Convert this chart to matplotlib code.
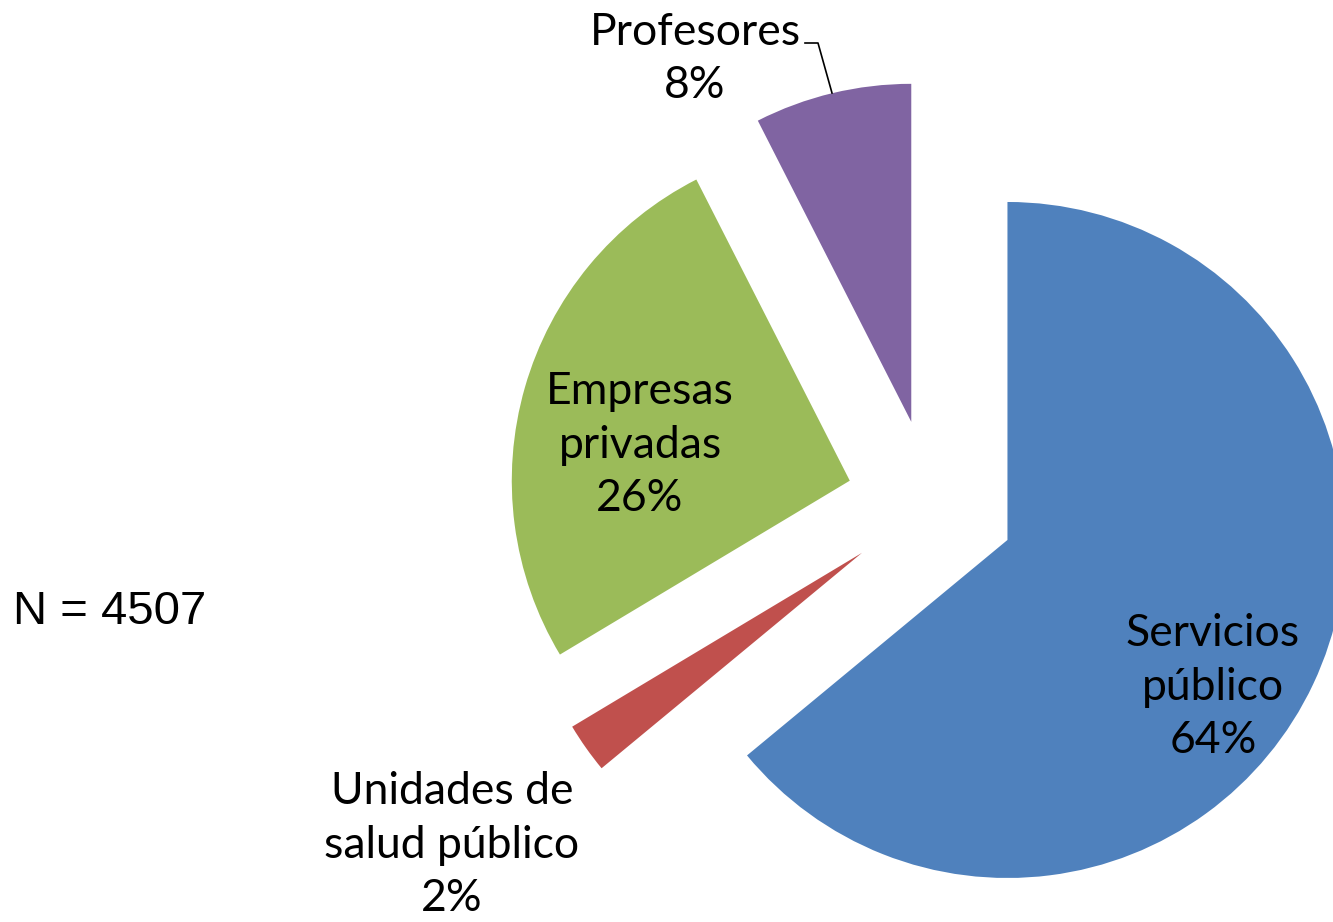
import matplotlib
matplotlib.use("Agg")
import matplotlib.pyplot as plt

# data
categories = ["Servicios\npúblico", "Unidades de\nsalud público", "Empresas\nprivadas", "Profesores"]
shares = [64.0, 2.4, 26.1, 7.5]          # slice sizes
shown_pct = [64, 2, 26, 8]               # percentages printed on the chart
colors = ["#4F81BD", "#C0504D", "#9BBB59", "#8064A2"]
n_label = "N = 4507"

W, H = 1333, 922
fig = plt.figure(figsize=(W / 100, H / 100), dpi=100)
ax = fig.add_axes([0, 0, 1, 1])

# pie geometry in pixels of the reference
R = 338.0
CX, CY = 931.0, 504.0

def px(x, y):
    return ((x - CX) / R, (CY - y) / R)

ax.pie(shares, colors=colors, startangle=90, counterclock=False,
       explode=[0.25] * 4, radius=1.0, center=(0, 0),
       wedgeprops=dict(linewidth=0))

ax.set_xlim(px(0, 0)[0], px(W, 0)[0])
ax.set_ylim(px(0, H)[1], px(0, 0)[1])
ax.set_aspect("equal")
ax.axis("off")

label_pos = [(1213, 687), (452, 845), (640, 445), (695, 59)]
font = dict(family=["Lato", "DejaVu Sans"], fontsize=32)
for cat, val, (lx, ly) in zip(categories, shown_pct, label_pos):
    ax.text(*px(lx, ly), f"{cat}\n{val}%", ha="center", va="center",
            multialignment="center", linespacing=1.39, color="black", **font)

# leader line for Profesores
pts = [px(805, 43), px(818, 43), px(832, 93)]
ax.plot([p[0] for p in pts], [p[1] for p in pts], color="black", linewidth=1.2)

fig.text(110 / W, 1 - 612 / H, n_label, ha="center", va="center",
         fontsize=34, family="Liberation Sans", color="black")

fig.savefig("out.png", dpi=100, facecolor="white")
